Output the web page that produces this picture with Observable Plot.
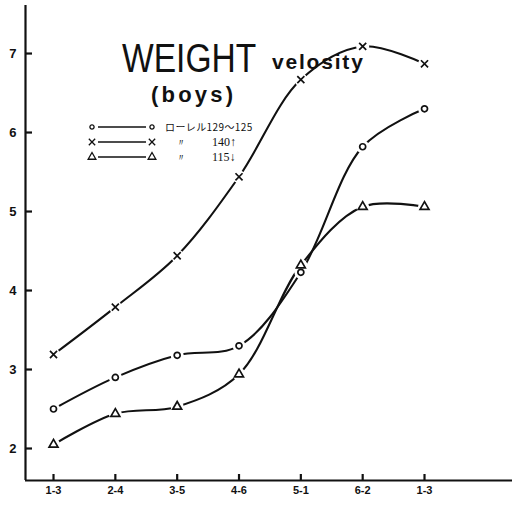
<!DOCTYPE html>
<html>
<head>
<meta charset="utf-8">
<script src="https://cdn.jsdelivr.net/npm/d3@7"></script>
<script src="https://cdn.jsdelivr.net/npm/@observablehq/plot@0.6"></script>
<style>
  html, body { margin: 0; padding: 0; background: #fff; }
  #chart { width: 512px; height: 506px; }
</style>
</head>
<body>
<div id="chart"></div>
<script>
// ---- data ----
const categories = ["1-3", "2-4", "3-5", "4-6", "5-1", "6-2", "1-3"];
const circleValues = [2.50, 2.90, 3.18, 3.30, 4.23, 5.82, 6.30];   // ローレル129～125
const crossValues  = [3.19, 3.79, 4.44, 5.44, 6.67, 7.09, 6.87];   // 140↑
const triValues    = [2.05, 2.44, 2.53, 2.94, 4.32, 5.06, 5.06];   // 115↓
const yTicks = [2, 3, 4, 5, 6, 7];
const seriesNames = ["circle", "cross", "triangle"];
const legendMarks = ["〃", "〃"];
const legendLabels = ["ローレル129～125", "140↑", "115↓"];
const titleMain = "WEIGHT";
const titleSub = "velosity";
const titleGroup = "(boys)";

// ---- build table ----
const seriesValues = [circleValues, crossValues, triValues];
const symbols = {circle: "circle", cross: "times", triangle: "triangle"};
const rows = [];
seriesNames.forEach((s, si) => {
  seriesValues[si].forEach((v, i) => rows.push({series: s, i, v, label: categories[i]}));
});
const idx = d3.range(categories.length);

const W = 512, H = 506, mL = 25, mR = 0, mT = 5, mB = 26;
const xDomain = [-0.453, 7.423];
const yDomain = [1.595, 7.608];
const font = "Liberation Sans, Arial, sans-serif";

const plot = Plot.plot({
  width: W,
  height: H,
  marginLeft: mL,
  marginRight: mR,
  marginTop: mT,
  marginBottom: mB,
  style: {fontFamily: font, color: "#111", background: "#fff"},
  x: {type: "linear", domain: xDomain, axis: null},
  y: {domain: yDomain, axis: null},
  marks: [
    // axis lines
    Plot.ruleX([xDomain[0]], {stroke: "#111", strokeWidth: 2.2}),
    Plot.ruleY([yDomain[0]], {stroke: "#111", strokeWidth: 2.2}),
    // inward tick marks
    Plot.tickY(yTicks, {y: d => d, insetRight: W - mL - mR - 7, stroke: "#111", strokeWidth: 2.2}),
    Plot.tickX(idx, {x: d => d, insetTop: H - mT - mB - 6, stroke: "#111", strokeWidth: 2.2}),
    // tick labels
    Plot.axisY({ticks: yTicks, tickSize: 0, tickPadding: 9, label: null, tickFormat: d3.format("d"), fontSize: 13, fontWeight: "bold", fill: "#111"}),
    Plot.axisX({ticks: idx, tickSize: 0, tickPadding: 6, label: null, tickFormat: i => categories[i], fontSize: 11, fontWeight: "bold", fill: "#111"}),
    // curves
    Plot.line(rows, {x: "i", y: "v", z: "series", curve: "catmull-rom", stroke: "#111", strokeWidth: 2.1}),
    // gaps around markers
    Plot.dot(rows, {x: "i", y: "v", r: 6.5, fill: "#fff", stroke: null}),
    // markers
    Plot.dot(rows, {x: "i", y: "v", symbol: d => symbols[d.series], r: d => d.series === "circle" ? 2.8 : 3.4, fill: "none", stroke: "#111", strokeWidth: 1.7})
  ]
});

document.getElementById("chart").appendChild(plot);

// ---- title and legend inside the plot area ----
const svg = d3.select(plot);
const g = svg.append("g").attr("text-anchor", "start");
g.append("text").text(titleMain)
  .attr("transform", "translate(122,72) scale(0.84,1)")
  .attr("font-family", font).attr("font-size", 40).attr("fill", "#111");
g.append("text").text(titleSub)
  .attr("x", 272).attr("y", 69)
  .attr("font-family", font).attr("font-size", 21).attr("font-weight", "bold").attr("fill", "#111")
  .attr("letter-spacing", 1.8);
g.append("text").text(titleGroup)
  .attr("x", 151).attr("y", 102)
  .attr("font-family", font).attr("font-size", 22).attr("font-weight", "bold").attr("fill", "#111")
  .attr("letter-spacing", 3.2);

const legendY = [127, 142, 157];
const legendSym = [d3.symbolCircle, d3.symbolTimes, d3.symbolTriangle];
const legendSize = [14, 28, 26];
const jp = "Noto Sans CJK JP, sans-serif";
const serif = "Liberation Serif, DejaVu Serif, serif";
legendY.forEach((y, k) => {
  [92, 152].forEach(x => {
    g.append("path").attr("d", d3.symbol(legendSym[k], legendSize[k])())
      .attr("transform", `translate(${x},${y})`)
      .attr("fill", "none").attr("stroke", "#111").attr("stroke-width", 1.3);
  });
  g.append("line").attr("x1", 98).attr("x2", 146).attr("y1", y).attr("y2", y)
    .attr("stroke", "#111").attr("stroke-width", 1.3);
  if (k === 0) {
    g.append("text").text(legendLabels[0]).attr("x", 165).attr("y", y + 4)
      .attr("font-family", jp).attr("font-size", 10).attr("fill", "#111")
      .attr("letter-spacing", 0.4);
  } else {
    g.append("text").text(legendMarks[k - 1]).attr("x", 176).attr("y", y + 4)
      .attr("font-family", serif).attr("font-size", 10).attr("fill", "#111");
    g.append("text").text(legendLabels[k]).attr("x", 212).attr("y", y + 4)
      .attr("font-family", serif).attr("font-size", 12).attr("fill", "#111");
  }
});
</script>
</body>
</html>
